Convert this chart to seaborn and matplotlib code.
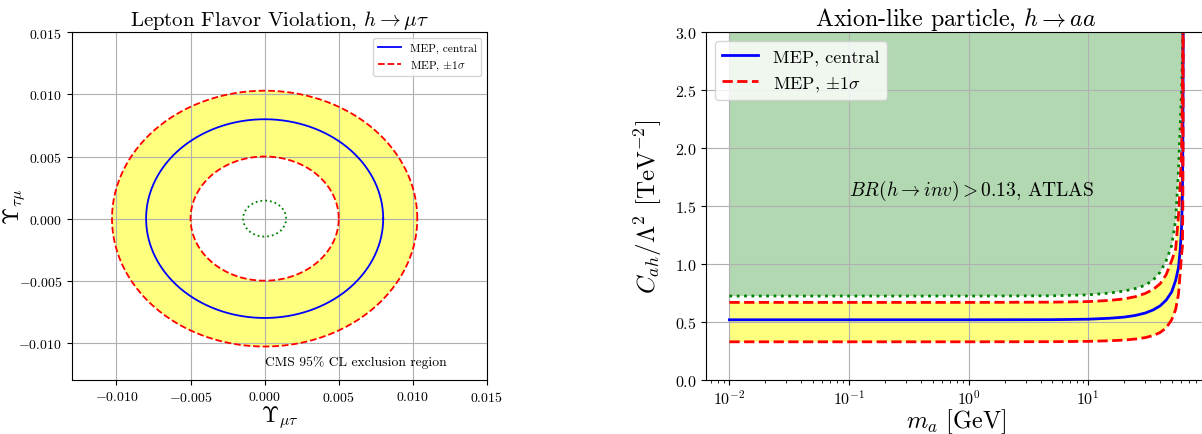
import numpy as np
import matplotlib
matplotlib.use("Agg")
import matplotlib.pyplot as plt
from matplotlib.patches import Annulus
import seaborn as sns

# ---- left panel: LFV ellipses (radii in coupling units) ----
lfv_central_r = 0.0080
lfv_sigma_r = [0.0050, 0.0103]
cms_limit_r = 0.00145

# ---- right panel: ALP ----
m_a = [0.01, 0.1, 1.0, 5.0, 10.0, 15.0, 20.0, 25.0, 30.0, 35.0, 40.0, 45.0,
       50.0, 54.0, 57.0, 59.0, 60.5, 61.5, 62.0, 62.3, 62.45, 62.5]
c_central = [0.52, 0.52, 0.52, 0.521, 0.525, 0.533, 0.543, 0.558, 0.578,
             0.605, 0.64, 0.69, 0.76, 0.86, 0.97, 1.13, 1.32, 1.60, 2.0,
             2.5, 3.2, 10.0]
c_lower = [0.33, 0.33, 0.33, 0.331, 0.334, 0.339, 0.345, 0.354, 0.366,
           0.384, 0.41, 0.45, 0.52, 0.61, 0.74, 0.93, 1.08, 1.15, 1.5, 2.0,
           3.0, 10.0]
c_upper = [0.67, 0.67, 0.67, 0.672, 0.677, 0.687, 0.70, 0.72, 0.747,
           0.782, 0.83, 0.91, 1.03, 1.13, 1.42, 1.70, 2.0, 2.5, 2.8, 3.1,
           3.5, 10.0]
c_atlas = [0.725, 0.725, 0.725, 0.727, 0.735, 0.75, 0.768, 0.79, 0.818,
           0.862, 0.93, 1.03, 1.16, 1.38, 1.80, 2.2, 2.5, 2.8, 3.1, 3.4,
           3.8, 10.0]

plt.rcParams["font.family"] = ["cmr10", "DejaVu Serif"]
plt.rcParams["mathtext.fontset"] = "cm"
plt.rcParams["axes.formatter.use_mathtext"] = True
plt.rcParams["axes.unicode_minus"] = True

fig = plt.figure(figsize=(12.02, 4.35), dpi=100)
ax1 = fig.add_axes([0.0599, 0.124, 0.3452, 0.7994])
ax2 = fig.add_axes([0.5874, 0.124, 0.4159, 0.7994])

# left panel
theta = np.linspace(0, 2 * np.pi, 400)
ax1.add_patch(Annulus((0, 0), lfv_sigma_r[1], lfv_sigma_r[1] - lfv_sigma_r[0],
                      facecolor="yellow", alpha=0.5, edgecolor="none"))
sns.lineplot(x=lfv_central_r * np.cos(theta), y=lfv_central_r * np.sin(theta),
             sort=False, estimator=None, color="blue", lw=1.3,
             label="MEP, central", ax=ax1)
for i, r in enumerate(lfv_sigma_r):
    sns.lineplot(x=r * np.cos(theta), y=r * np.sin(theta), sort=False,
                 estimator=None, color="red", lw=1.3, ls="--",
                 label=r"MEP, $\pm1\sigma$" if i == 0 else "_nolegend_", ax=ax1)
sns.lineplot(x=cms_limit_r * np.cos(theta), y=cms_limit_r * np.sin(theta),
             sort=False, estimator=None, color="green", lw=1.3, ls=":",
             label="_nolegend_", ax=ax1)
ax1.text(0.0, -0.0115, "CMS 95% CL exclusion region", fontsize=9.8, va="center")
ax1.set_xlim(-0.013, 0.015)
ax1.set_ylim(-0.013, 0.015)
ax1.set_xticks(np.arange(-0.010, 0.0151, 0.005))
ax1.set_yticks(np.arange(-0.010, 0.0151, 0.005))
ax1.grid(True, color="#b0b0b0", lw=0.8)
ax1.tick_params(labelsize=10)
ax1.set_xlabel(r"$\Upsilon_{\mu\tau}$", fontsize=16, labelpad=0)
ax1.set_ylabel(r"$\Upsilon_{\tau\mu}$", fontsize=16)
ax1.yaxis.set_label_coords(-0.105, 0.5)
ax1.set_title(r"Lepton Flavor Violation, $h \to \mu\tau$", fontsize=15, pad=5)
ax1.legend(loc="upper right", fontsize=8.2)

# right panel
ax2.set_xscale("log")
ax2.fill_between(m_a, c_atlas, 3.0, color="green", alpha=0.3, lw=0)
ax2.fill_between(m_a, c_lower, c_upper, color="yellow", alpha=0.5, lw=0)
sns.lineplot(x=m_a, y=c_atlas, color="green", lw=2, ls=":",
             label="_nolegend_", ax=ax2)
sns.lineplot(x=m_a, y=c_central, color="blue", lw=2,
             label="MEP, central", ax=ax2)
sns.lineplot(x=m_a, y=c_upper, color="red", lw=2, ls="--",
             label=r"MEP, $\pm1\sigma$", ax=ax2)
sns.lineplot(x=m_a, y=c_lower, color="red", lw=2, ls="--",
             label="_nolegend_", ax=ax2)
ax2.text(0.1, 1.64, r"$BR(h \to inv) > 0.13$, ATLAS", fontsize=14,
         va="center")
ax2.set_xlim(0.00638, 96.8)
ax2.set_ylim(0, 3.0)
ax2.grid(True, which="major", color="#b0b0b0", lw=0.8)
ax2.tick_params(labelsize=11.5)
ax2.tick_params(axis="x", pad=2)
ax2.set_xlabel(r"$m_a$ [GeV]", fontsize=17.5, labelpad=0)
ax2.set_ylabel(r"$C_{ah}/\Lambda^2$ [TeV$^{-2}$]", fontsize=18)
ax2.yaxis.set_label_coords(-0.084, 0.5)
ax2.set_title(r"Axion-like particle, $h \to aa$", fontsize=17.3, pad=5)
ax2.legend(loc="upper left", fontsize=13)

fig.savefig("out.png", dpi=100)
